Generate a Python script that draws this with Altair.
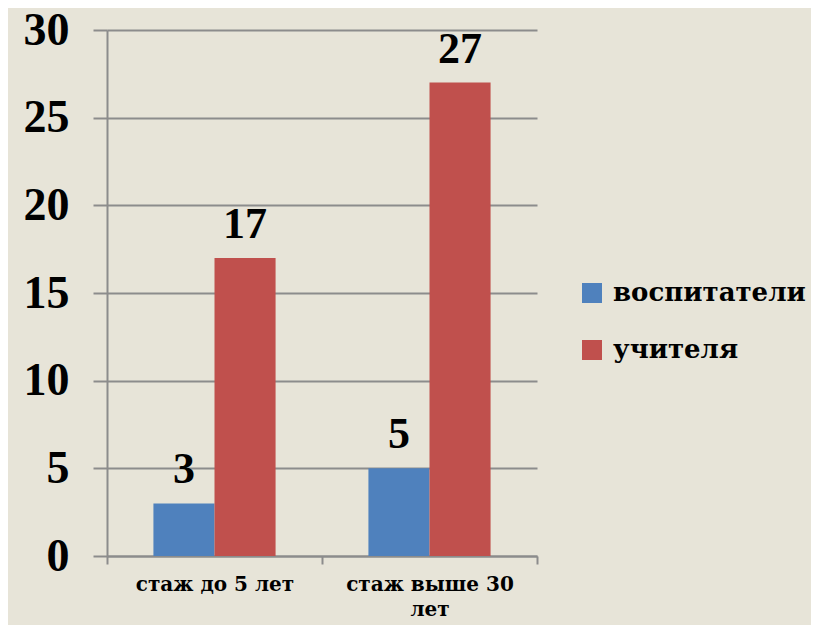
import altair as alt
import pandas as pd

categories = ["стаж до 5 лет", "стаж выше 30 лет"]
series = ["воспитатели", "учителя"]
vospitateli = [3, 5]
uchitelya = [17, 27]
y_ticks = [0, 5, 10, 15, 20, 25, 30]
colors = ["#4F81BD", "#C0504D"]

rows = []
for i, c in enumerate(categories):
    rows.append({"cat": c, "series": series[0], "value": vospitateli[i]})
    rows.append({"cat": c, "series": series[1], "value": uchitelya[i]})
df = pd.DataFrame(rows)

FONT = "Liberation Serif"
FONT_CYR = "DejaVu Serif"
GRAY = "#8C8C8C"

x = alt.X(
    "cat:N",
    sort=categories,
    scale=alt.Scale(paddingInner=0, paddingOuter=0),
    axis=alt.Axis(
        title=None,
        labelAngle=0,
        tickBand="extent",
        labelFont=FONT_CYR,
        labelFontSize=20,
        labelFontWeight="bold",
        labelColor="black",
        labelPadding=10,
        tickSize=8,
        tickColor=GRAY,
        tickWidth=2,
        domainColor=GRAY,
        domainWidth=2,
        grid=False,
        labelLineHeight=25,
        labelExpr="datum.value == 'стаж выше 30 лет' ? ['стаж выше 30', 'лет'] : datum.label",
    ),
)
xoff = alt.XOffset("series:N", sort=series, scale=alt.Scale(paddingOuter=0.76, paddingInner=0))
y = alt.Y(
    "value:Q",
    scale=alt.Scale(domain=[0, 30]),
    axis=alt.Axis(
        values=y_ticks,
        title=None,
        labelFont=FONT,
        labelFontSize=46,
        labelFontWeight="bold",
        labelColor="black",
        labelPadding=24,
        tickSize=14,
        tickColor=GRAY,
        tickWidth=2,
        domainColor=GRAY,
        domainWidth=2,
        grid=True,
        gridColor=GRAY,
        gridWidth=2,
        gridOpacity=1,
    ),
)
color = alt.Color(
    "series:N",
    sort=series,
    scale=alt.Scale(domain=series, range=colors),
    legend=alt.Legend(
        title=None,
        orient="none",
        legendX=472,
        legendY=250,
        padding=0,
        symbolType="square",
        symbolSize=400,
        symbolStrokeWidth=0,
        symbolOpacity=1,
        labelFont=FONT_CYR,
        labelFontSize=26,
        labelFontWeight="bold",
        labelColor="black",
        labelOffset=8,
        rowPadding=31,
        labelLimit=400,
    ),
)

base = alt.Chart(df)
bars = base.mark_bar(opacity=1).encode(x=x, xOffset=xoff, y=y, color=color)
texts = base.mark_text(
    baseline="alphabetic", dy=-20, font=FONT, fontSize=44, fontWeight="bold", color="black"
).encode(x=x, xOffset=xoff, y=y, text="value:Q")

chart = (
    alt.layer(bars, texts)
    .properties(
        width=430,
        height=526,
        autosize=alt.AutoSizeParams(type="none"),
        padding={"left": 99, "top": 22, "right": 274, "bottom": 69},
        background="#E7E4D8",
    )
    .configure_view(stroke=None)
)

chart.save("out.html", embed_options={"renderer": "svg", "actions": False})
